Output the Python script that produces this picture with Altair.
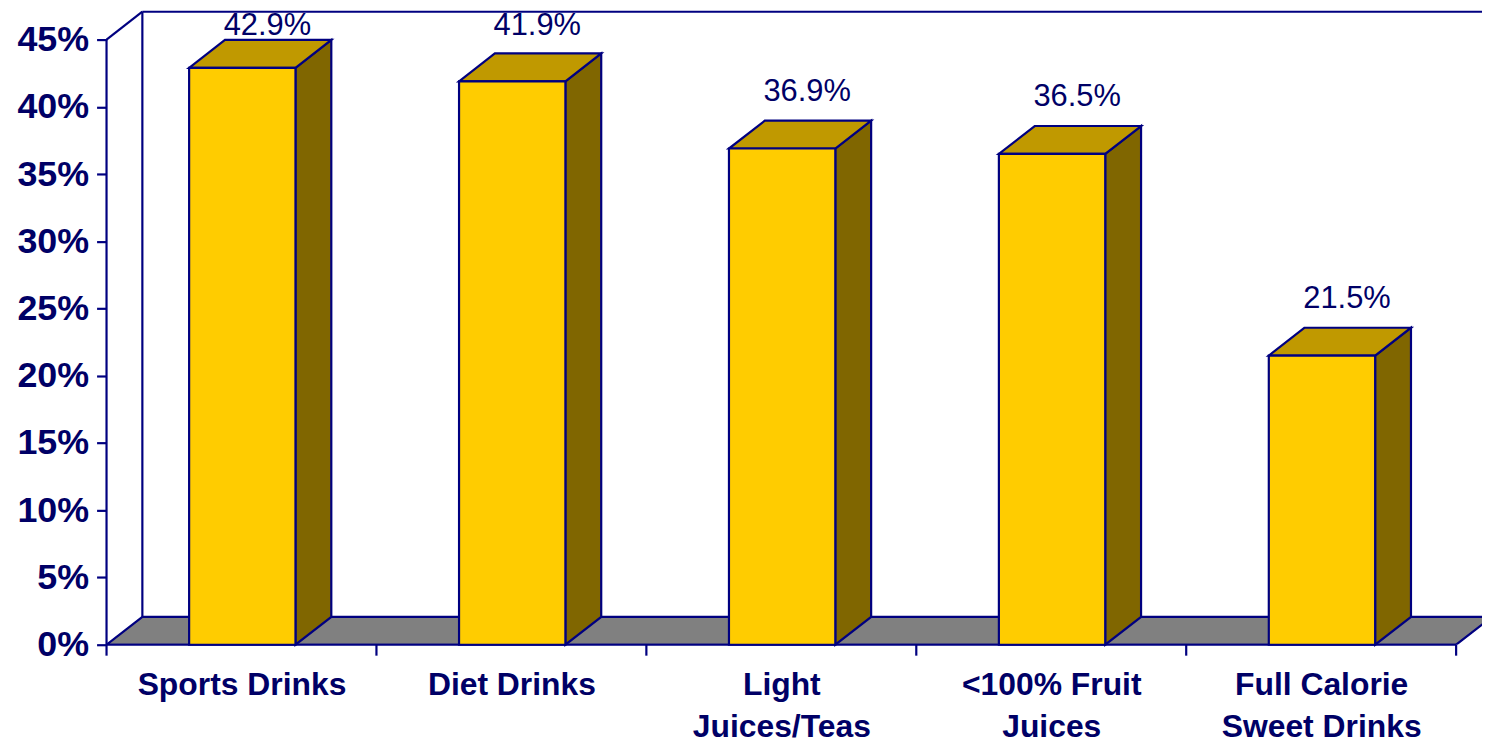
import json
import altair as alt
import pandas as pd

# ---- data ----
categories = ["Sports Drinks", "Diet Drinks", "Light Juices/Teas",
              "<100% Fruit Juices", "Full Calorie Sweet Drinks"]
label_lines = [["Sports Drinks"], ["Diet Drinks"], ["Light", "Juices/Teas"],
               ["<100% Fruit", "Juices"], ["Full Calorie", "Sweet Drinks"]]
values = [42.9, 41.9, 36.9, 36.5, 21.5]
y_ticks = [0, 5, 10, 15, 20, 25, 30, 35, 40, 45]

# ---- geometry / style ----
W, H = 1382, 636
PAD_L, PAD_T, PAD_B = 99, 2, 97
PXU_X = 271.2                 # px per category
XMAX = W / PXU_X
PXU_Y = 608 / 45.0            # px per percent
YMAX = H / PXU_Y
DX = 36 / PXU_X               # 3D depth, x units
DY = 28 / PXU_Y               # 3D depth, y units
BAR_L, BAR_R = 0.306, 0.700   # bar front face within category slot
NAVY = "#000080"
TXT = "#000066"
FONT = "Liberation Sans"
SW = 2.2

n = len(categories)
bars = pd.DataFrame({
    "cat": categories,
    "value": values,
    "base": [0.0] * n,
    "x0": [i + BAR_L for i in range(n)],
    "x1": [i + BAR_R for i in range(n)],
    "xc": [i + 0.5 for i in range(n)],
})
bars["label"] = [f"{v:.1f}%" for v in values]
bars["label_y"] = [min(v + DY + 20 / PXU_Y, 45.37) for v in values]

side_rows, top_rows = [], []
for i, (c, v) in enumerate(zip(categories, values)):
    x0, x1 = i + BAR_L, i + BAR_R
    side_rows.append({"cat": c, "x": x1, "ylo": 0.0, "yhi": v})
    side_rows.append({"cat": c, "x": x1 + DX, "ylo": DY, "yhi": v + DY})
    top_rows.append({"cat": c, "y": v, "xl": x0, "xr": x1})
    top_rows.append({"cat": c, "y": v + DY, "xl": x0 + DX, "xr": x1 + DX})
side = pd.DataFrame(side_rows)
top = pd.DataFrame(top_rows)

floor = pd.DataFrame({"y": [0.0, DY], "xl": [0.0, DX], "xr": [float(n), n + DX]})

frame = pd.DataFrame({
    "xa": [0.0, 0.0, DX, DX, 0.0],
    "ya": [0.0, 45.0, DY, 45 + DY, 0.0],
    "xb": [0.0, DX, DX, XMAX, float(n)],
    "yb": [45.0, 45 + DY, 45 + DY, 45 + DY, 0.0],
})
bounds = pd.DataFrame({"b": [float(i) for i in range(n + 1)], "base": [0.0] * (n + 1)})

xs = alt.Scale(domain=[0, XMAX], nice=False, zero=False)
ys = alt.Scale(domain=[0, YMAX], nice=False, zero=False)

label_expr = "[" + ",".join("[" + ",".join(json.dumps(s) for s in ls) + "]"
                            for ls in label_lines) + "][floor(datum.value)]"

x_axis = alt.Axis(values=[i + 0.5 for i in range(n)], labelExpr=label_expr,
                  ticks=False, domain=False, grid=False, title=None,
                  labelFont=FONT, labelFontWeight="bold", labelFontSize=32,
                  labelColor=TXT, labelPadding=25, labelLineHeight=42,
                  labelOverlap=False, labelFlush=False, labelLimit=0)
y_axis = alt.Axis(values=y_ticks, labelExpr="datum.value + '%'",
                  domain=False, grid=False, title=None,
                  tickSize=10, tickColor=NAVY, tickWidth=SW,
                  labelFont=FONT, labelFontWeight="bold", labelFontSize=36,
                  labelColor=TXT, labelPadding=8, labelLimit=0,
                  minExtent=94, maxExtent=94)


def X(f):
    return alt.X(f, scale=xs, axis=x_axis, title=None)


def Y(f):
    return alt.Y(f, scale=ys, axis=y_axis, title=None)


floor_l = alt.Chart(floor).mark_area(
    orient="horizontal", fill="#808080", stroke=NAVY, strokeWidth=SW, clip=True
).encode(y=Y("y:Q"), x=X("xl:Q"), x2="xr:Q")

frame_l = alt.Chart(frame).mark_rule(color=NAVY, strokeWidth=SW).encode(
    x=X("xa:Q"), y=Y("ya:Q"), x2="xb:Q", y2="yb:Q",
)

ticks_l = alt.Chart(bounds).mark_rule(color=NAVY, strokeWidth=SW).encode(
    x=X("b:Q"), y=Y("base:Q"), y2=alt.value(H + 11),
)

side_l = alt.Chart(side).mark_area(
    fill="#806600", stroke=NAVY, strokeWidth=SW
).encode(x=X("x:Q"), y=Y("yhi:Q"), y2="ylo:Q", detail="cat:N")

top_l = alt.Chart(top).mark_area(
    orient="horizontal", fill="#C09900", stroke=NAVY, strokeWidth=SW
).encode(y=Y("y:Q"), x=X("xl:Q"), x2="xr:Q", detail="cat:N")

front_l = alt.Chart(bars).mark_rect(
    fill="#FFCC00", stroke=NAVY, strokeWidth=SW
).encode(x=X("x0:Q"), x2="x1:Q", y=Y("base:Q"), y2="value:Q")

text_l = alt.Chart(bars).mark_text(
    font=FONT, fontSize=31, color=TXT, baseline="alphabetic", align="center",
    dx=26
).encode(x=X("xc:Q"), y=Y("label_y:Q"), text="label:N")

chart = alt.layer(
    floor_l, frame_l, ticks_l, side_l, top_l, front_l, text_l
).properties(
    width=W, height=H,
    autosize=alt.AutoSizeParams(type="none"),
    padding={"left": PAD_L, "top": PAD_T, "right": 0, "bottom": PAD_B},
    background="white",
).configure_view(stroke=None)

chart.save("out.html", embed_options={"renderer": "svg", "actions": False})
